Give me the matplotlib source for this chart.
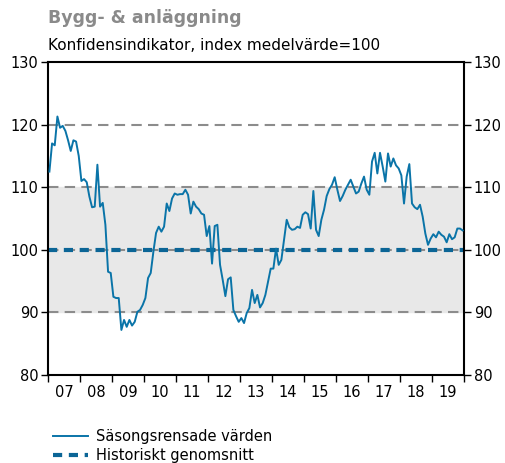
import matplotlib.pyplot as plt
import numpy as np

# Säsongsrensade värden, månadsdata jan 2007 - dec 2019
varden = [
    112.5, 117.0, 116.7, 121.3, 119.5, 119.8, 119.0, 117.5, 115.8, 117.5, 117.3, 115.0,  # 2007
    111.0, 111.3, 110.8, 108.5, 106.8, 106.9, 113.6, 106.9, 107.5, 104.0, 96.5, 96.3,    # 2008
    92.5, 92.3, 92.3, 87.2, 88.8, 87.7, 88.8, 87.9, 88.5, 90.1, 90.4, 91.2,             # 2009
    92.3, 95.5, 96.3, 99.7, 102.7, 103.7, 102.9, 103.7, 107.4, 106.2, 108.2, 109.0,     # 2010
    108.8, 108.9, 108.9, 109.6, 108.8, 105.8, 107.7, 106.9, 106.5, 105.8, 105.6, 102.2, # 2011
    103.8, 97.8, 103.8, 104.0, 97.6, 95.2, 92.6, 95.3, 95.6, 90.4, 89.4, 88.5,         # 2012
    89.1, 88.3, 89.9, 90.7, 93.6, 91.5, 92.8, 90.8, 91.5, 92.8, 94.9, 97.0,             # 2013
    97.0, 100.2, 97.6, 98.4, 101.6, 104.8, 103.6, 103.2, 103.3, 103.7, 103.5, 105.6,    # 2014
    106.0, 105.7, 103.4, 109.4, 103.2, 102.2, 104.8, 106.4, 108.6, 109.7, 110.4, 111.6, # 2015
    109.6, 107.8, 108.6, 109.6, 110.4, 111.2, 110.1, 109.0, 109.3, 110.6, 111.7, 109.6, # 2016
    108.8, 114.1, 115.5, 112.2, 115.5, 113.3, 110.9, 115.4, 113.3, 114.6, 113.5, 113.0, # 2017
    111.9, 107.4, 111.7, 113.7, 107.4, 106.8, 106.5, 107.2, 105.3, 102.6, 100.8, 101.8, # 2018
    102.5, 102.0, 102.9, 102.4, 102.1, 101.2, 102.5, 101.7, 102.0, 103.4, 103.4, 103.1, # 2019
]
historiskt_snitt = 100
ar = ['07', '08', '09', '10', '11', '12', '13', '14', '15', '16', '17', '18', '19']
y_ticks = [80, 90, 100, 110, 120, 130]

blue = '#0a74a8'
dark_blue = '#0b6596'

x = 2007 + (np.arange(len(varden)) + 0.5) / 12

fig = plt.figure(figsize=(5.06, 4.63), dpi=100)
ax = fig.add_axes([0.095, 0.19, 0.822, 0.676])

# grått band och streckade referenslinjer
ax.axhspan(90, 110, color='#e8e8e8', zorder=0)
for v in [90, 100, 110, 120]:
    ax.axhline(v, color='#8c8c8c', linestyle=(0, (5, 3)), linewidth=1.5, zorder=1)

ax.plot(x, varden, color=blue, linewidth=1.4, zorder=3, label='Säsongsrensade värden')
ax.plot([2007, 2020], [historiskt_snitt, historiskt_snitt], color=dark_blue, linewidth=3,
        linestyle=(0, (2.2, 1.6)), zorder=2, label='Historiskt genomsnitt')

ax.set_xlim(2007, 2020)
ax.set_ylim(80, 130)
ax.set_yticks(y_ticks)
ax.tick_params(axis='y', which='both', direction='out', length=5, width=1,
               labelsize=10.5, left=True, right=True, labelleft=True, labelright=True, pad=2)

ax.set_xticks(np.arange(2007, 2021))
ax.set_xticklabels([])
ax.set_xticks(np.arange(2007, 2020) + 0.5, minor=True)
ax.set_xticklabels(ar, minor=True)
ax.tick_params(axis='x', which='major', direction='out', length=5, width=1)
ax.tick_params(axis='x', which='minor', length=0, labelsize=10.5, pad=7)

for s in ax.spines.values():
    s.set_linewidth(1.5)
    s.set_color('black')

fig.text(0.095, 0.95, 'Bygg- & anläggning', fontsize=12.5, fontweight='bold', color='#8a8a8a')
fig.text(0.095, 0.893, 'Konfidensindikator, index medelvärde=100', fontsize=11)

fig.legend(loc='upper left', bbox_to_anchor=(0.105, 0.074), bbox_transform=fig.transFigure,
           frameon=False, fontsize=10.5, handlelength=2.4, handletextpad=0.55,
           labelspacing=0.3, borderaxespad=0, borderpad=0)

plt.savefig('out.png', dpi=100)
